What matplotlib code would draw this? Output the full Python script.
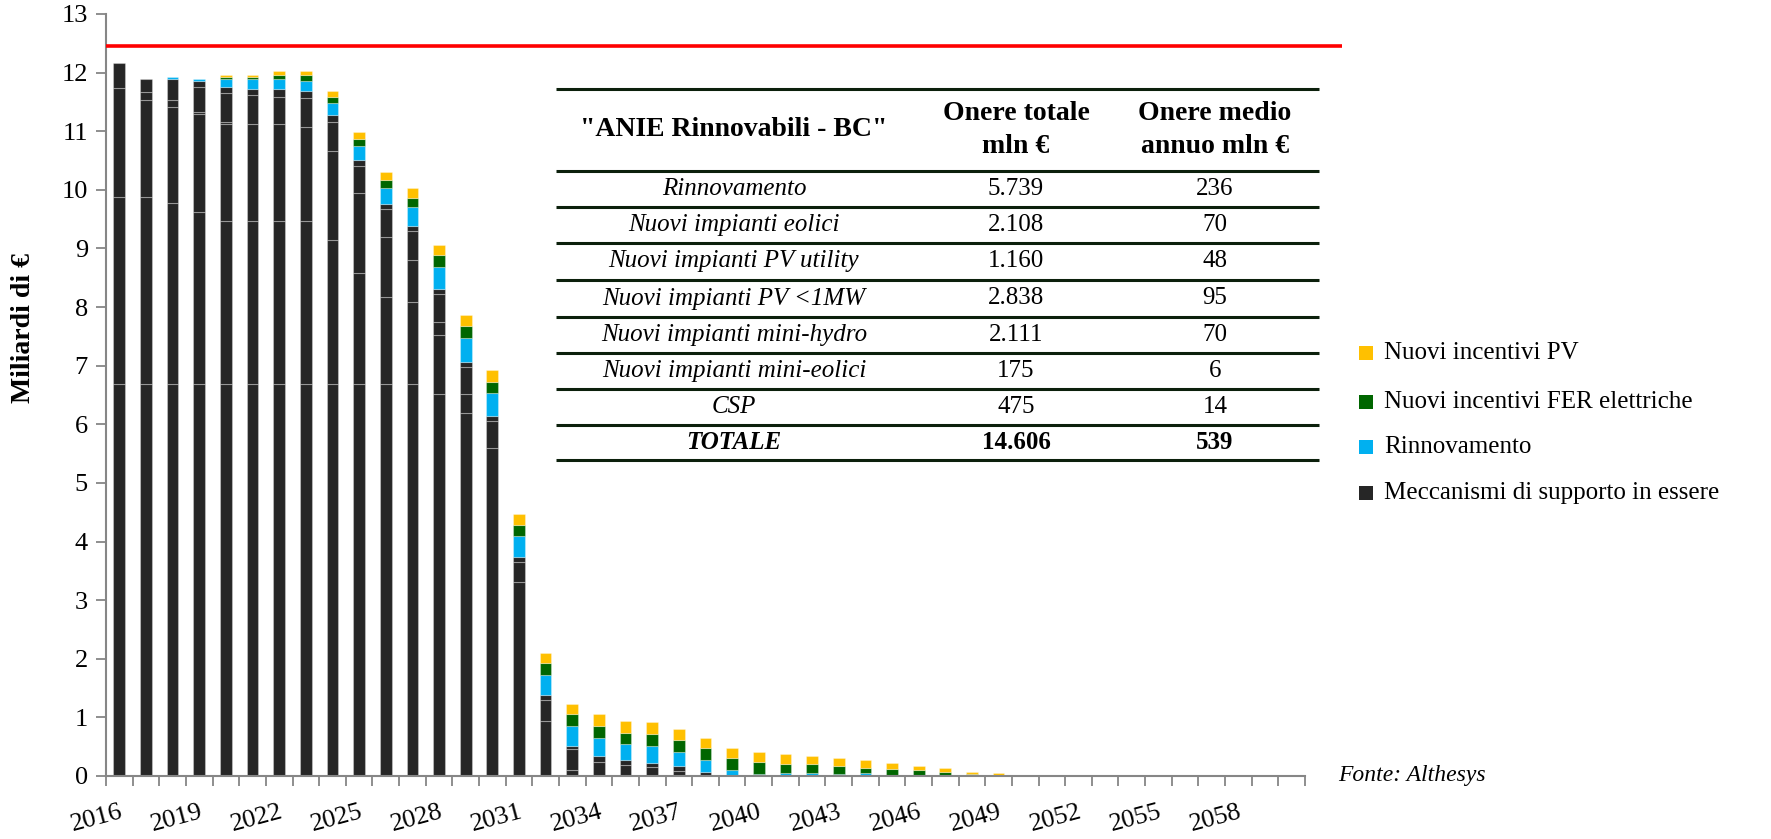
import numpy as np
import matplotlib
matplotlib.use("Agg")
import matplotlib.pyplot as plt
from matplotlib.patches import Rectangle
from matplotlib.lines import Line2D

# ---------------------------------------------------------------- data
anni = list(range(2016, 2061))
etichette_anni = ["2016", "2019", "2022", "2025", "2028", "2031", "2034", "2037",
                  "2040", "2043", "2046", "2049", "2052", "2055", "2058"]

# Meccanismi di supporto in essere: stacked components (bottom to top), mld €
supporto_1 = [6.69, 6.69, 6.69, 6.69, 6.69, 6.69, 6.69, 6.69, 6.69, 6.69, 6.69, 6.69,
              6.52, 6.19, 5.60, 3.31, 0.94, 0.11, 0, 0, 0, 0, 0, 0, 0, 0, 0, 0, 0, 0,
              0, 0, 0, 0, 0, 0, 0, 0, 0, 0, 0, 0, 0, 0, 0]
supporto_2 = [3.18, 3.18, 3.08, 2.94, 2.77, 2.77, 2.77, 2.77, 2.46, 1.89, 1.49, 1.39,
              1.01, 0.33, 0, 0, 0, 0, 0, 0, 0, 0, 0, 0, 0, 0, 0, 0, 0, 0,
              0, 0, 0, 0, 0, 0, 0, 0, 0, 0, 0, 0, 0, 0, 0]
supporto_3 = [1.86, 1.66, 1.65, 1.66, 1.66, 1.66, 1.66, 1.62, 1.52, 1.36, 1.01, 0.73,
              0.21, 0, 0, 0, 0, 0, 0, 0, 0, 0, 0, 0, 0, 0, 0, 0, 0, 0,
              0, 0, 0, 0, 0, 0, 0, 0, 0, 0, 0, 0, 0, 0, 0]
supporto_4 = [0, 0.14, 0.11, 0.03, 0.03, 0, 0, 0, 0, 0, 0, 0,
              0, 0, 0, 0, 0, 0, 0, 0, 0, 0, 0, 0, 0, 0, 0, 0, 0, 0,
              0, 0, 0, 0, 0, 0, 0, 0, 0, 0, 0, 0, 0, 0, 0]
supporto_5 = [0.43, 0.22, 0.36, 0.44, 0.51, 0.50, 0.47, 0.48, 0.48, 0.46, 0.48, 0.48,
              0.48, 0.45, 0.45, 0.34, 0.35, 0.35, 0.245, 0.18, 0.15, 0.08, 0.07, 0, 0, 0, 0, 0, 0, 0,
              0, 0, 0, 0, 0, 0, 0, 0, 0, 0, 0, 0, 0, 0, 0]
supporto_6 = [0, 0, 0, 0.09, 0.09, 0.10, 0.13, 0.12, 0.12, 0.11, 0.09, 0.09,
              0.09, 0.09, 0.10, 0.09, 0.09, 0.05, 0.095, 0.09, 0.08, 0.09, 0, 0, 0, 0, 0, 0, 0, 0,
              0, 0, 0, 0, 0, 0, 0, 0, 0, 0, 0, 0, 0, 0, 0]

rinnovamento = [0, 0, 0.03, 0.04, 0.14, 0.17, 0.17, 0.17, 0.21, 0.24, 0.27, 0.32,
                0.37, 0.41, 0.38, 0.35, 0.34, 0.34, 0.30, 0.27, 0.28, 0.24, 0.20, 0.11, 0.04, 0.045, 0.045, 0.04, 0.045, 0.01,
                0.01, 0.01, 0.01, 0.008, 0.015, 0.015, 0.015, 0.015, 0.015, 0.015, 0.015, 0.015, 0.015, 0.015, 0]
fer_elettriche = [0, 0, 0, 0, 0.03, 0.03, 0.07, 0.11, 0.10, 0.12, 0.14, 0.16,
                  0.20, 0.20, 0.20, 0.19, 0.20, 0.20, 0.21, 0.20, 0.20, 0.20, 0.20, 0.20, 0.20, 0.155, 0.155, 0.125, 0.085, 0.11,
                  0.085, 0.05, 0.025, 0, 0, 0, 0, 0, 0, 0, 0, 0, 0, 0, 0]
incentivi_pv = [0, 0, 0, 0, 0.04, 0.04, 0.07, 0.07, 0.10, 0.11, 0.13, 0.17,
                0.18, 0.20, 0.20, 0.19, 0.17, 0.17, 0.20, 0.20, 0.21, 0.20, 0.17, 0.16, 0.17, 0.18, 0.145, 0.145, 0.15, 0.11,
                0.075, 0.08, 0.04, 0.04, 0, 0, 0, 0, 0, 0, 0, 0, 0, 0, 0]

soglia = 12.45

legenda_voci = ["Nuovi incentivi PV", "Nuovi incentivi FER elettriche",
                "Rinnovamento", "Meccanismi di supporto in essere"]

tabella_titoli = ['"ANIE Rinnovabili - BC"', "Onere totale\nmln €", "Onere medio\nannuo mln €"]
tabella_voci = ["Rinnovamento", "Nuovi impianti eolici", "Nuovi impianti PV utility",
                "Nuovi impianti PV <1MW", "Nuovi impianti mini-hydro",
                "Nuovi impianti mini-eolici", "CSP", "TOTALE"]
onere_totale = ["5.739", "2.108", "1.160", "2.838", "2.111", "175", "475", "14.606"]
onere_medio = ["236", "70", "48", "95", "70", "6", "14", "539"]

# ---------------------------------------------------------------- style
W, H = 1771, 839
C_NERO = "#262626"
C_BLU = "#00B0F0"
C_VERDE = "#006600"
C_GIALLO = "#FFC000"
C_ASSE = "#868686"
C_TAB = "#0c200c"
FONT = "Liberation Serif"
plt.rcParams["font.family"] = [FONT, "DejaVu Serif"]


def fx(px):
    return px / W


def fy(py):
    return 1 - py / H


fig = plt.figure(figsize=(W / 100, H / 100), dpi=100)
ax = fig.add_axes([fx(106), fy(776), fx(1305) - fx(106), fy(14) - fy(776)])

x = np.arange(len(anni))
larghezza = 0.44
bordo = (1, 1, 1, 0.3)

serie = [(supporto_1, C_NERO), (supporto_2, C_NERO), (supporto_3, C_NERO),
         (supporto_4, C_NERO), (supporto_5, C_NERO), (supporto_6, C_NERO),
         (rinnovamento, C_BLU), (fer_elettriche, C_VERDE), (incentivi_pv, C_GIALLO)]

base = np.zeros(len(anni))
for valori, colore in serie:
    v = np.asarray(valori, dtype=float)
    m = v > 0
    ax.bar(x[m], v[m], width=larghezza, bottom=base[m], color=colore,
           edgecolor=bordo, linewidth=0.8, zorder=2)
    base = base + v

ax.set_xlim(-0.5, len(anni) - 0.5)
ax.set_ylim(0, 13)

# threshold line runs a little past the category axis
ax.plot([-0.5, len(anni) + 0.9], [soglia, soglia], color="#FF0000", lw=2.6,
        zorder=3, clip_on=False, solid_capstyle="butt")

ax.set_yticks(np.arange(0, 14, 1))
ax.tick_params(axis="y", direction="out", length=7, width=1.3, color=C_ASSE,
               labelsize=19, pad=6)

ax.set_xticks(x[::3])
ax.set_xticklabels(etichette_anni, rotation=15, ha="right", rotation_mode="anchor",
                   fontsize=19)
ax.tick_params(axis="x", length=0, pad=18)
ax.set_xticks(np.arange(-0.5, len(anni), 1), minor=True)
ax.tick_params(axis="x", which="minor", direction="out", length=7, width=1.3,
               color=C_ASSE)

for s in ("top", "right"):
    ax.spines[s].set_visible(False)
for s in ("left", "bottom"):
    ax.spines[s].set_color(C_ASSE)
    ax.spines[s].set_linewidth(1.5)

fig.text(fx(24), fy(328), "Miliardi di €", rotation=90, ha="center", va="center",
         fontsize=20, fontweight="bold")

# ---------------------------------------------------------------- legend
righe_leg = [353, 402, 447, 493]
colori_leg = [C_GIALLO, C_VERDE, C_BLU, C_NERO]
for testo, colore, yy in zip(legenda_voci, colori_leg, righe_leg):
    fig.patches.append(Rectangle((fx(1359), fy(yy + 6.5)), fx(13.5), 13.5 / H,
                                 transform=fig.transFigure, facecolor=colore,
                                 edgecolor="none"))
    fig.text(fx(1384), fy(yy), testo, ha="left", va="center", fontsize=18)

fig.text(fx(1338), fy(776), "Fonte: Althesys", ha="left", va="center",
         fontsize=17, style="italic")

# ---------------------------------------------------------------- table
linee = [89, 171, 207, 243, 280, 317, 353, 389, 425, 460]
x0_tab, x1_tab = 556, 1319
for yy in linee:
    fig.add_artist(Line2D([fx(x0_tab), fx(x1_tab)], [fy(yy), fy(yy)],
                          transform=fig.transFigure, color=C_TAB, lw=2.2,
                          solid_capstyle="butt"))

col_x = [734, 1016, 1215]
y_tit = (linee[0] + linee[1]) / 2
for cx, t in zip(col_x, tabella_titoli):
    fig.text(fx(cx), fy(y_tit), t, ha="center", va="center", fontsize=20,
             fontweight="bold", linespacing=1.45)

for i, (voce, tot, med) in enumerate(zip(tabella_voci, onere_totale, onere_medio)):
    yy = (linee[i + 1] + linee[i + 2]) / 2
    peso = "bold" if voce == "TOTALE" else "normal"
    fig.text(fx(col_x[0]), fy(yy), voce, ha="center", va="center", fontsize=18,
             style="italic", fontweight=peso)
    fig.text(fx(col_x[1]), fy(yy), tot, ha="center", va="center", fontsize=18,
             fontweight=peso)
    fig.text(fx(col_x[2]), fy(yy), med, ha="center", va="center", fontsize=18,
             fontweight=peso)

fig.savefig("out.png", dpi=100, facecolor="white")
